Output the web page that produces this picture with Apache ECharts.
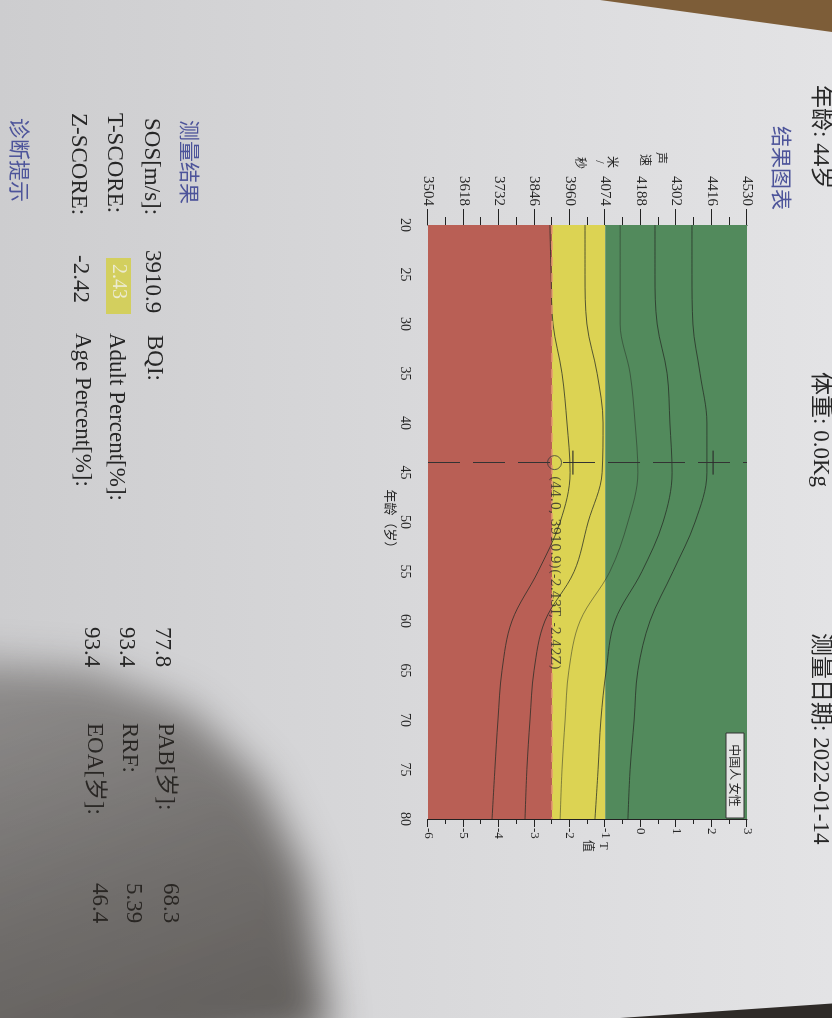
<!DOCTYPE html>
<html><head><meta charset="utf-8">
<script src="https://cdn.jsdelivr.net/npm/echarts@6/dist/echarts.min.js"></script>
<style>
html,body{margin:0;padding:0;width:832px;height:1018px;overflow:hidden;}
body{background:linear-gradient(to right,#cdcdcf 0%,#d6d6d8 40%,#dedee0 75%,#e3e3e5 100%);position:relative;}
#page{position:absolute;left:0;top:0;width:1018px;height:832px;transform-origin:0 0;transform:translateX(832px) rotate(90deg);}
#shadowWrap{position:absolute;left:-60px;top:575px;width:470px;height:510px;filter:blur(20px);pointer-events:none;}
#shadow{position:absolute;left:0;top:0;width:100%;height:100%;
  background:linear-gradient(160deg,rgba(45,40,35,0.30) 0%,rgba(45,40,35,0.58) 55%,rgba(35,30,25,0.70) 100%);
  clip-path:polygon(0px 85px,150px 95px,250px 135px,320px 205px,365px 300px,390px 460px,0px 510px);}
#wood{position:absolute;left:600px;top:0;width:232px;height:32px;background:#7d5d38;clip-path:polygon(0 0,100% 0,100% 100%);}
#corner{position:absolute;left:620px;top:1000px;width:212px;height:18px;background:#2f2b28;clip-path:polygon(0 100%,100% 20%,100% 100%);}
</style></head><body>
<div id="page"></div>
<div id="shadowWrap"><div id="shadow"></div></div>
<div id="wood"></div>
<div id="corner"></div>
<script>
// ---------- data ----------
const ages    = [20, 25, 30, 35, 40, 45, 50, 55, 60, 65, 70, 75, 80];
const plus2SD = [4353, 4353, 4356, 4379, 4401, 4401, 4363, 4292, 4218, 4179, 4167, 4154, 4147];
const plus1SD = [4234, 4234, 4241, 4273, 4282, 4289, 4260, 4192, 4105, 4077, 4060, 4051, 4041];
const meanSOS = [4122, 4122, 4122, 4154, 4170, 4179, 4147, 4089, 3993, 3957, 3945, 3935, 3929];
const minus1SD= [4009, 4009, 4015, 4048, 4067, 4064, 4019, 3974, 3880, 3845, 3832, 3822, 3816];
const minus2SD= [3896, 3900, 3906, 3935, 3951, 3961, 3929, 3858, 3774, 3742, 3729, 3719, 3710];

const sosTicks      = [3504, 3618, 3732, 3846, 3960, 4074, 4188, 4302, 4416, 4530];
const sosMinorTicks = [3561, 3675, 3789, 3903, 4017, 4131, 4245, 4359, 4473];
const zoneLimitsT   = [-6, -2.5, -1, 3];          // red | yellow | green on the T axis
const patientAge = 44.0, patientSOS = 3910.9, patientT = -2.43, patientZ = -2.42;
const ageRangeSOS = [3970, 4421];                 // short marks on the age line

// ---------- styles ----------
const zoneColors = ['#b95f55', '#dcd353', '#528a5c'];
const SERIF = '"Liberation Serif","Noto Sans CJK SC"';
const CJK = '"Noto Sans CJK SC"';
const INK = '#262626', BLUE = '#4d549a';

const chart = echarts.init(document.getElementById('page'), null, {renderer: 'canvas', width: 1018, height: 832});

const zoneAreas = [];
for (let i = 0; i < zoneColors.length; i++) {
  zoneAreas.push([{yAxis: zoneLimitsT[i], itemStyle: {color: zoneColors[i]}}, {yAxis: zoneLimitsT[i + 1]}]);
}

const curveDefs = [
  {name: '+2SD', vals: plus2SD, op: 0.75},
  {name: '+1SD', vals: plus1SD, op: 0.75},
  {name: 'mean', vals: meanSOS, op: 0.5},
  {name: '-1SD', vals: minus1SD, op: 0.75},
  {name: '-2SD', vals: minus2SD, op: 0.75}
];
const curveSeries = curveDefs.map(c => ({
  name: c.name, type: 'line', yAxisIndex: 0, z: 3, silent: true,
  smooth: 0.35, showSymbol: false,
  data: ages.map((a, i) => [a, c.vals[i]]),
  lineStyle: {color: '#262b24', width: 1, opacity: c.op}
}));

function txt(text, u, v, font, fill, align) {
  return {type: 'text', x: u, y: v, silent: true, z: 10,
    style: {text: text, font: font, fill: fill, textAlign: align || 'left', textVerticalAlign: 'middle'}};
}
const F = '23px ' + SERIF;
const graphics = [
  txt('年龄: 44岁', 85, 12, '23px ' + SERIF, INK),
  txt('体重: 0.0Kg', 372, 12, '23px ' + SERIF, INK),
  txt('测量日期: 2022-01-14', 633, 12, '23px ' + SERIF, INK),
  txt('结果图表', 126, 50, '21px ' + CJK, BLUE),
  // left axis name (vertical)
  txt('声', 158, 170, '12px ' + CJK, INK, 'center'),
  txt('速', 160, 186, '12px ' + CJK, INK, 'center'),
  txt('米', 162, 219, '12px ' + CJK, INK, 'center'),
  txt('/', 162, 233, '12px ' + SERIF, INK, 'center'),
  txt('秒', 163, 251, '12px ' + CJK, INK, 'center'),
  // right axis name
  txt('T', 846, 229, '12px ' + SERIF, INK, 'center'),
  txt('值', 846, 243, '12px ' + CJK, INK, 'center'),
  // population box
  {type: 'rect', silent: true, z: 10, shape: {x: 733, y: 88, width: 85, height: 18},
   style: {fill: '#e4e4e4', stroke: '#333', lineWidth: 1}},
  txt('中国人 女性', 775.5, 97.5, '12px ' + CJK, INK, 'center'),
  // results block
  txt('测量结果', 120, 642, '21px ' + CJK, BLUE),
  txt('SOS[m/s]:', 118, 681, F, INK),
  txt('3910.9', 250, 680, F, INK),
  txt('BQI:', 335, 678, F, INK),
  txt('77.8', 627, 670, F, INK),
  txt('PAB[岁]:', 723, 667, F, INK),
  txt('68.3', 883, 662, F, INK),
  txt('T-SCORE:', 113, 718, F, INK),
  {type: 'rect', silent: true, z: 9, shape: {x: 258, y: 701, width: 56, height: 25},
   style: {fill: '#d3cf5e'}},
  txt('2.43', 264, 714, '20px ' + SERIF, '#ecebd0'),
  txt('Adult Percent[%]:', 333, 716, F, INK),
  txt('93.4', 627, 706, F, INK),
  txt('RRF:', 723, 703, F, INK),
  txt('5.39', 883, 699, F, INK),
  txt('Z-SCORE:', 113, 754, F, INK),
  txt('-2.42', 255, 752, F, INK),
  txt('Age Percent[%]:', 333, 750, F, INK),
  txt('93.4', 627, 741, F, INK),
  txt('EOA[岁]:', 723, 738, F, INK),
  txt('46.4', 883, 733, F, INK),
  txt('诊断提示', 118, 812, '21px ' + CJK, BLUE)
];

const axisLineStyle = {color: '#222', width: 1};
const labelBase = {color: INK, fontFamily: SERIF};

const option = {
  backgroundColor: 'transparent',
  animation: false,
  grid: {left: 225, top: 85, width: 594, height: 319, outerBoundsMode: 'none', containLabel: false},
  xAxis: {
    type: 'value', min: 20, max: 80, interval: 5, position: 'bottom',
    axisLine: {show: true, lineStyle: axisLineStyle},
    axisTick: {show: true, inside: false, length: 15, lineStyle: axisLineStyle},
    minorTick: {show: true, splitNumber: 5, length: 8, lineStyle: axisLineStyle},
    axisLabel: Object.assign({fontSize: 14, margin: 16, formatter: v => String(v)}, labelBase),
    splitLine: {show: false}, minorSplitLine: {show: false},
    name: '年龄（岁）', nameLocation: 'middle', nameGap: 31,
    nameTextStyle: {fontSize: 13, color: INK, fontFamily: CJK}
  },
  yAxis: [
    {
      type: 'value', min: 3504, max: 4530, position: 'left',
      axisLine: {show: true, lineStyle: axisLineStyle},
      axisTick: {show: true, inside: false, length: 16, customValues: sosTicks, lineStyle: axisLineStyle},
      axisLabel: Object.assign({fontSize: 15, margin: 19, customValues: sosTicks, formatter: v => String(v)}, labelBase),
      splitLine: {show: false}
    },
    {
      type: 'value', min: -6, max: 3, interval: 1, position: 'right',
      axisLine: {show: true, lineStyle: axisLineStyle},
      axisTick: {show: true, inside: false, length: 8, lineStyle: axisLineStyle},
      minorTick: {show: true, splitNumber: 2, length: 5, lineStyle: axisLineStyle},
      axisLabel: Object.assign({fontSize: 13, margin: 9, formatter: v => String(v)}, labelBase),
      splitLine: {show: false}, minorSplitLine: {show: false}
    },
    {
      type: 'value', min: 3504, max: 4530, position: 'left',
      axisLine: {show: false},
      axisTick: {show: true, inside: false, length: 8, customValues: sosMinorTicks, lineStyle: axisLineStyle},
      axisLabel: {show: false},
      splitLine: {show: false}
    }
  ],
  graphic: graphics,
  series: [
    {
      name: 'zones', type: 'line', yAxisIndex: 1, data: [], z: 1, silent: true,
      markArea: {silent: true, data: zoneAreas},
      markLine: {silent: true, symbol: 'none', label: {show: false},
        lineStyle: {color: '#e39a72', width: 1.5, type: [9, 7]},
        data: [{yAxis: zoneLimitsT[1]}]}
    },
    ...curveSeries,
    {
      name: 'range', type: 'scatter', yAxisIndex: 0, z: 5, silent: true,
      symbol: 'rect', symbolSize: [24, 1.4],
      itemStyle: {color: '#2a2a2a'},
      data: ageRangeSOS.map(s => [patientAge, s])
    },
    {
      name: 'patient', type: 'scatter', yAxisIndex: 0, z: 6, silent: true,
      symbol: 'circle', symbolSize: 14,
      itemStyle: {color: 'rgba(0,0,0,0)', borderColor: '#3a3a3a', borderWidth: 1},
      data: [[patientAge, patientSOS]],
      label: {
        show: true, position: 'right', distance: 6,
        fontSize: 13, fontFamily: '"DejaVu Serif"', color: '#2a2a2a',
        formatter: '(' + patientAge.toFixed(1) + ', ' + patientSOS.toFixed(1) + ')(' +
          patientT.toFixed(2) + 'T, ' + patientZ.toFixed(2) + 'Z)'
      },
      markLine: {
        silent: true, symbol: 'none', label: {show: false},
        lineStyle: {color: '#333', width: 1, type: [32, 13]},
        data: [{xAxis: patientAge}]
      }
    }
  ]
};
chart.setOption(option);
</script>
</body></html>
